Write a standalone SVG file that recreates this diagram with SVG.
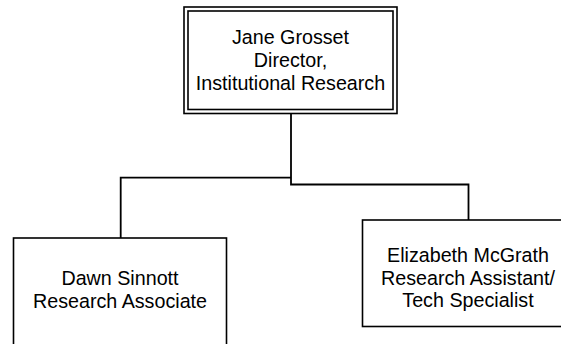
<svg xmlns="http://www.w3.org/2000/svg" width="561" height="344" viewBox="0 0 561 344">
<style>
.box{fill:#fff;stroke:#000;stroke-width:1.6}
.conn{fill:none;stroke:#000;stroke-width:1.8}
text{font-family:"Liberation Sans",Arial,sans-serif;font-size:19.7px;fill:#000;text-anchor:middle}
</style>
<rect width="561" height="344" fill="#fff"/>
<g id="connectors">
<polyline class="conn" points="291,113.5 291,184.5 468.5,184.5 468.5,220"/>
<polyline class="conn" points="291,177.7 120.7,177.7 120.7,238"/>
</g>
<g id="node-jane">
<rect class="box" x="184" y="7" width="213" height="106.5"/>
<rect class="box" x="188" y="11" width="205" height="98.5"/>
<text x="290.5" y="44">Jane Grosset</text>
<text x="290.5" y="67">Director,</text>
<text x="290.5" y="90">Institutional Research</text>
</g>
<g id="node-dawn">
<rect class="box" x="13.5" y="238" width="213" height="120"/>
<text x="120" y="285">Dawn Sinnott</text>
<text x="120" y="308">Research Associate</text>
</g>
<g id="node-elizabeth">
<rect class="box" x="362.5" y="220" width="212" height="106.5"/>
<text x="468" y="262">Elizabeth McGrath</text>
<text x="468" y="284.5">Research Assistant/</text>
<text x="468" y="307">Tech Specialist</text>
</g>
</svg>
